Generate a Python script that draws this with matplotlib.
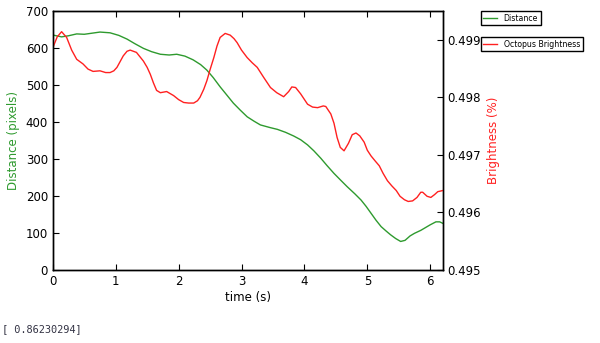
import matplotlib
matplotlib.use('Agg')
import matplotlib.pyplot as plt
import numpy as np

# distance (pixels) over time
dist_t = [0.0, 0.14, 0.25, 0.38, 0.5, 0.75, 0.91, 1.05, 1.18, 1.3, 1.44, 1.57, 1.71,
          1.85, 1.97, 2.1, 2.23, 2.35, 2.45, 2.55, 2.66, 2.77, 2.87, 2.98, 3.09, 3.2,
          3.3, 3.45, 3.57, 3.7, 3.83, 3.94, 4.05, 4.15, 4.26, 4.36, 4.47, 4.58, 4.68,
          4.8, 4.9, 4.98, 5.06, 5.14, 5.22, 5.3, 5.37, 5.45, 5.53, 5.6, 5.68, 5.75,
          5.85, 5.91, 6.0, 6.09, 6.15, 6.2]
distance = [635, 630, 633, 638, 637, 643, 641, 634, 624, 612, 599, 590, 583,
            581, 583, 578, 568, 555, 540, 520, 495, 472, 451, 432, 414, 402,
            392, 385, 380, 372, 362, 352, 338, 322, 302, 282, 261, 242, 225,
            206, 189, 172, 153, 134, 117, 105, 95, 85, 77, 80, 92, 99,
            107, 113, 122, 130, 130, 126]

# octopus brightness over time
bright_t = [0.0, 0.07, 0.14, 0.22, 0.3, 0.38, 0.48, 0.56, 0.64, 0.75, 0.84, 0.91, 0.97,
            1.02, 1.07, 1.12, 1.18, 1.23, 1.33, 1.44, 1.5, 1.55, 1.6, 1.65, 1.71, 1.81,
            1.92, 2.0, 2.08, 2.16, 2.24, 2.3, 2.34, 2.4, 2.45, 2.5, 2.56, 2.61, 2.66,
            2.74, 2.82, 2.88, 2.93, 3.0, 3.09, 3.17, 3.25, 3.35, 3.46, 3.56, 3.67, 3.75,
            3.8, 3.86, 3.94, 4.05, 4.13, 4.21, 4.3, 4.34, 4.42, 4.47, 4.52, 4.57, 4.63,
            4.7, 4.76, 4.82, 4.88, 4.95, 5.0, 5.06, 5.12, 5.19, 5.25, 5.32, 5.39, 5.46,
            5.52, 5.59, 5.65, 5.72, 5.79, 5.85, 5.88, 5.95, 6.01, 6.07, 6.12, 6.2]
brightness = [0.49886, 0.49905, 0.49914, 0.49904, 0.49882, 0.49866, 0.49858, 0.49849,
              0.49845, 0.49846, 0.49843, 0.49843, 0.49846, 0.49852, 0.49862, 0.49872,
              0.49880, 0.49882, 0.49878, 0.49863, 0.49852, 0.49840, 0.49825, 0.49812,
              0.49808, 0.49810, 0.49803, 0.49796, 0.49791, 0.49790, 0.49790, 0.49794,
              0.49800, 0.49814, 0.49829, 0.49848, 0.49869, 0.49889, 0.49904, 0.49911,
              0.49908, 0.49902, 0.49895, 0.49882, 0.49869, 0.49860, 0.49852, 0.49835,
              0.49817, 0.49808, 0.49801, 0.49810, 0.49818, 0.49817, 0.49806, 0.49788,
              0.49783, 0.49782, 0.49785, 0.49784, 0.49771, 0.49755, 0.49730, 0.49713,
              0.49707, 0.49720, 0.49735, 0.49738, 0.49733, 0.49722, 0.49708, 0.49698,
              0.49690, 0.49681, 0.49668, 0.49655, 0.49646, 0.49638, 0.49628, 0.49622,
              0.49619, 0.49620, 0.49626, 0.49635, 0.49635, 0.49628, 0.49626, 0.49631,
              0.49636, 0.49638]

green = '#2e9a2e'
red = '#ff2020'

fig = plt.figure(figsize=(6, 3.43), dpi=100)
ax = fig.add_axes([0.088, 0.213, 0.65, 0.755])
ax.plot(dist_t, distance, color=green, lw=1.0, label='Distance')
ax.set_xlim(0, 6.2)
ax.set_ylim(0, 700)
ax.set_xlabel('time (s)', fontsize=8.5, labelpad=2)
ax.set_ylabel('Distance (pixels)', color=green, fontsize=8.5)
ax.tick_params(direction='in', labelsize=8.5, top=True, length=4)

ax2 = ax.twinx()
ax2.plot(bright_t, brightness, color=red, lw=1.0, label='Octopus Brightness')
ax2.set_ylim(0.495, 0.4995)
ax2.set_yticks([0.495, 0.496, 0.497, 0.498, 0.499])
ax2.ticklabel_format(axis='y', useOffset=False)
ax2.set_ylabel('Brightness (%)', color=red, fontsize=8.5)
ax2.tick_params(direction='in', labelsize=8.5, length=4)

for a in (ax, ax2):
    for s in a.spines.values():
        s.set_linewidth(1.0)

leg_kw = dict(loc='upper left', fontsize=5.6, fancybox=False, edgecolor='black',
              framealpha=1, handlelength=1.8, borderpad=0.35, borderaxespad=0)
ax.legend(bbox_to_anchor=(1.097, 1.0), **leg_kw)
ax2.legend(bbox_to_anchor=(1.097, 0.90), **leg_kw)

fig.text(0.003, 0.033, '[ 0.86230294]', fontsize=7.4, family='DejaVu Sans Mono',
         color='#333344')

fig.savefig('out.png', dpi=100)
